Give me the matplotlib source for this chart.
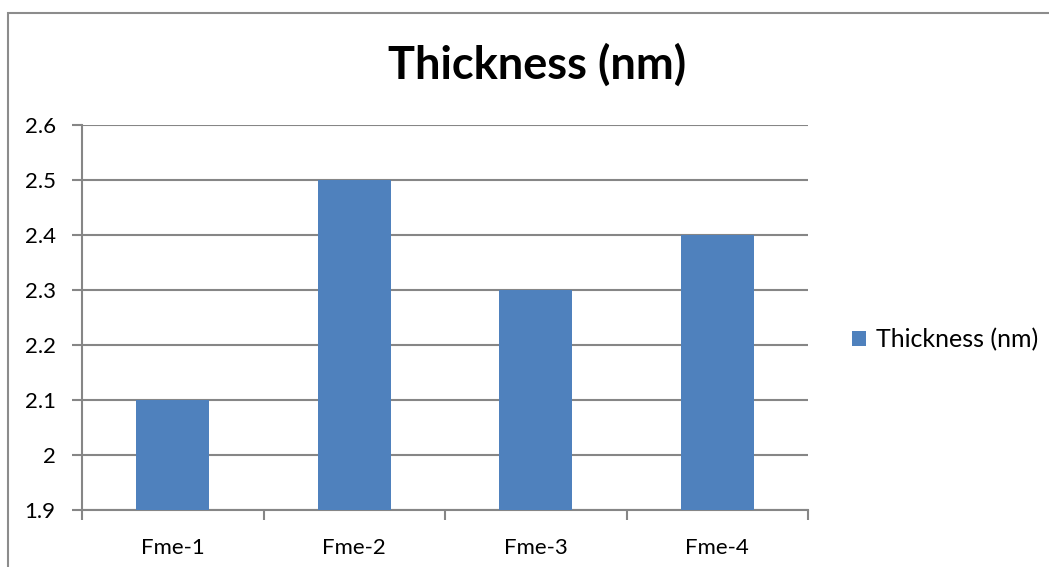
import matplotlib.pyplot as plt
from matplotlib.patches import Rectangle

# sample thickness values
samples = ["Fme-1", "Fme-2", "Fme-3", "Fme-4"]
thickness = [2.1, 2.5, 2.3, 2.4]
y_ticks = [1.9, 2.0, 2.1, 2.2, 2.3, 2.4, 2.5, 2.6]
y_labels = ["1.9", "2", "2.1", "2.2", "2.3", "2.4", "2.5", "2.6"]

bar_color = "#4F81BD"
grid_color = "#868686"
plt.rcParams["font.family"] = ["Lato", "DejaVu Sans"]

fig = plt.figure(figsize=(10.49, 5.67), dpi=100)

# outer chart border
fig.patches.append(Rectangle((8 / 1049, -0.1), 1.2, 1 - 13 / 567 + 0.1,
                             transform=fig.transFigure, fill=False,
                             edgecolor="#8c8c8c", linewidth=1.5))

ax = fig.add_axes([0.0782, 0.1005, 0.6921, 0.679])
x = range(len(samples))
ax.bar(x, thickness, width=0.4, color=bar_color, zorder=3, label="Thickness (nm)")

ax.set_xlim(-0.5, len(samples) - 0.5)
ax.set_ylim(1.9, 2.6)
ax.set_yticks(y_ticks)
ax.set_yticklabels(y_labels, fontsize=16)
ax.set_xticks(list(x))
ax.set_xticklabels(samples, fontsize=16)
ax.tick_params(axis="x", length=0, pad=20)
ax.tick_params(axis="y", length=7, color=grid_color, width=1.5, pad=12)

# category boundary ticks below the x axis
ax.set_xticks([i - 0.5 for i in range(len(samples) + 1)], minor=True)
ax.tick_params(axis="x", which="minor", length=7, color=grid_color, width=1.5)

ax.grid(axis="y", color=grid_color, linewidth=1.5, zorder=0)
for side in ["top", "right"]:
    ax.spines[side].set_visible(False)
for side in ["left", "bottom"]:
    ax.spines[side].set_color(grid_color)
    ax.spines[side].set_linewidth(1.5)

fig.text(537 / 1049, 1 - 65 / 567, "Thickness (nm)", ha="center", va="center",
         fontsize=32.5, fontweight="bold")

ax.legend(loc="center left", bbox_to_anchor=(1.030, 0.442), frameon=False,
          fontsize=18, handlelength=0.55, handleheight=0.55, handletextpad=0.4)

fig.savefig("out.png", dpi=100, facecolor="white")
